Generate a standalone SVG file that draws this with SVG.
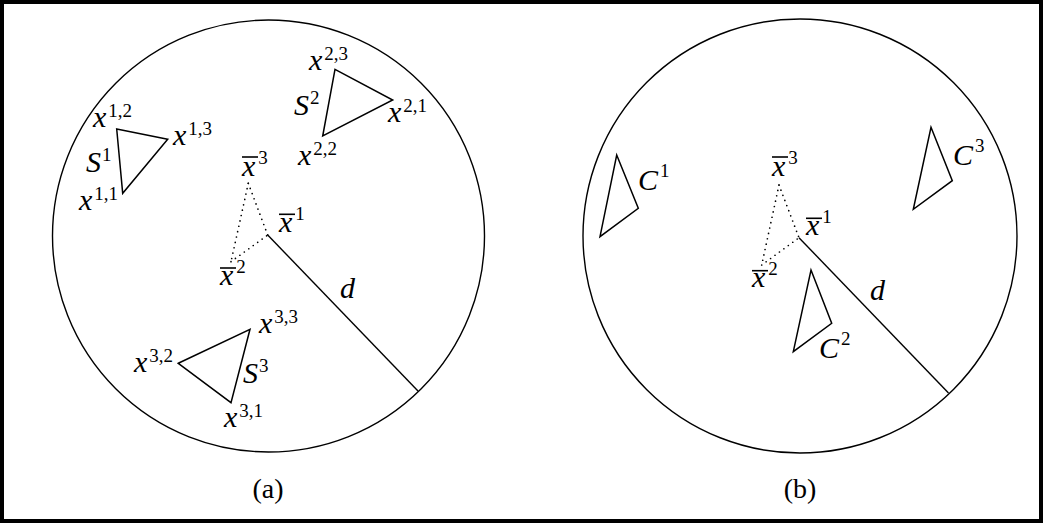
<svg xmlns="http://www.w3.org/2000/svg" width="1043" height="523" viewBox="0 0 1043 523">
<style>
.frame{fill:#fff;stroke:#000;stroke-width:4}
.circ{fill:none;stroke:#000;stroke-width:1.4}
.tri{fill:none;stroke:#000;stroke-width:1.5;stroke-linejoin:miter}
.dist{stroke:#000;stroke-width:1.4;fill:none}
.dot{stroke:#000;stroke-width:1.7;fill:none;stroke-dasharray:0 5.5;stroke-linecap:round}
.bar{stroke:#000;stroke-width:1.6}
text{font-family:"Liberation Serif","DejaVu Serif",serif;fill:#000}
.m{font-size:30px;font-style:italic}
.s{font-size:19px;font-style:normal}
.cap{font-size:28px}
</style>
<rect class="frame" x="2" y="2" width="1039" height="519"/>
<g id="panel-a">
  <circle id="circle-a" class="circ" cx="268.5" cy="236" r="216"/>
  <g id="S1">
    <polygon class="tri" points="116.7,129 167.7,139.3 122.7,193.3"/>
    <text class="m" x="93" y="127">x<tspan class="s" dx="2" dy="-10">1,2</tspan></text>
    <text class="m" x="173" y="145">x<tspan class="s" dx="2" dy="-10">1,3</tspan></text>
    <text class="m" x="86" y="172">S<tspan class="s" dx="1" dy="-11">1</tspan></text>
    <text class="m" x="79" y="210">x<tspan class="s" dx="2" dy="-10">1,1</tspan></text>
  </g>
  <g id="S2">
    <polygon class="tri" points="335,69.3 392.7,100 322.7,136"/>
    <text class="m" x="309" y="70">x<tspan class="s" dx="2" dy="-10">2,3</tspan></text>
    <text class="m" x="294" y="115">S<tspan class="s" dx="1" dy="-11">2</tspan></text>
    <text class="m" x="388" y="122">x<tspan class="s" dx="2" dy="-10">2,1</tspan></text>
    <text class="m" x="298" y="165">x<tspan class="s" dx="2" dy="-10">2,2</tspan></text>
  </g>
  <g id="S3">
    <polygon class="tri" points="178.3,363.3 250,329.3 231,402.7"/>
    <text class="m" x="259" y="333">x<tspan class="s" dx="2" dy="-10">3,3</tspan></text>
    <text class="m" x="134" y="372">x<tspan class="s" dx="2" dy="-10">3,2</tspan></text>
    <text class="m" x="243" y="383">S<tspan class="s" dx="1" dy="-11">3</tspan></text>
    <text class="m" x="224" y="427">x<tspan class="s" dx="2" dy="-10">3,1</tspan></text>
  </g>
  <g id="xbar-a">
    <line class="bar" x1="242" y1="157" x2="258" y2="157"/>
    <text class="m" x="242" y="176">x<tspan class="s" dx="3" dy="-12">3</tspan></text>
    <line class="bar" x1="279" y1="214.3" x2="295" y2="214.3"/>
    <text class="m" x="279" y="232">x<tspan class="s" dx="3" dy="-12">1</tspan></text>
    <line class="bar" x1="220" y1="268" x2="236" y2="268"/>
    <text class="m" x="220" y="285">x<tspan class="s" dx="3" dy="-12">2</tspan></text>
    <text class="m" x="340" y="298">d</text>
  </g>
  <text id="label-a" class="cap" x="268" y="498" text-anchor="middle">(a)</text>
</g>
<g id="panel-b">
  <circle id="circle-b" class="circ" cx="800" cy="236" r="217"/>
  <g id="C1">
    <polygon class="tri" points="616.7,155 638.3,208.3 600,236.7"/>
    <text class="m" x="638" y="190">C<tspan class="s" dx="2" dy="-13">1</tspan></text>
  </g>
  <g id="C2">
    <polygon class="tri" points="811,270 831.7,323.3 793.3,351.7"/>
    <text class="m" x="819" y="358">C<tspan class="s" dx="2" dy="-13">2</tspan></text>
  </g>
  <g id="C3">
    <polygon class="tri" points="931,127.3 952.3,180.7 913.3,209.3"/>
    <text class="m" x="953" y="165">C<tspan class="s" dx="2" dy="-13">3</tspan></text>
  </g>
  <g id="xbar-b">
    <line class="bar" x1="772" y1="157" x2="788" y2="157"/>
    <text class="m" x="772" y="176">x<tspan class="s" dx="3" dy="-12">3</tspan></text>
    <line class="bar" x1="806" y1="218.3" x2="822" y2="218.3"/>
    <text class="m" x="806" y="235">x<tspan class="s" dx="3" dy="-12">1</tspan></text>
    <line class="bar" x1="752" y1="270.7" x2="768" y2="270.7"/>
    <text class="m" x="752" y="287">x<tspan class="s" dx="3" dy="-12">2</tspan></text>
    <text class="m" x="870" y="300">d</text>
  </g>
  <text id="label-b" class="cap" x="800" y="498" text-anchor="middle">(b)</text>
</g>
<g id="connectors">
  <line class="dist" x1="267.7" y1="235" x2="418" y2="391"/>
  <line class="dot" x1="248.3" y1="183.3" x2="267.7" y2="235"/>
  <line class="dot" x1="248.3" y1="183.3" x2="231" y2="261.7"/>
  <line class="dot" x1="231" y1="261.7" x2="267.7" y2="235"/>
  <line class="dist" x1="799" y1="237.7" x2="948.5" y2="393"/>
  <line class="dot" x1="779" y1="185" x2="799" y2="237.7"/>
  <line class="dot" x1="779" y1="185" x2="761.7" y2="265"/>
  <line class="dot" x1="761.7" y1="265" x2="799" y2="237.7"/>
</g>
</svg>
